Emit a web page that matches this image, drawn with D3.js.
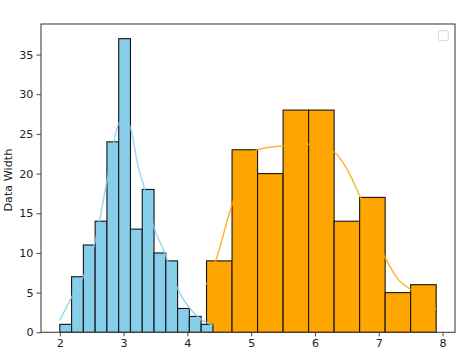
<!DOCTYPE html>
<html>
<head>
<meta charset="utf-8">
<script src="https://cdn.jsdelivr.net/npm/d3@7"></script>
<style>
  html, body { margin: 0; padding: 0; background: #fff; }
  svg { display: block; }
  text { font-family: "DejaVu Sans", sans-serif; }
</style>
</head>
<body>
<svg id="chart" width="474" height="357"></svg>
<script>
// ---- data ----
const blueEdges  = [2.0, 2.1846, 2.3692, 2.5538, 2.7385, 2.9231, 3.1077, 3.2923, 3.4769, 3.6615, 3.8462, 4.0308, 4.2154, 4.4];
const blueCounts = [1, 7, 11, 14, 24, 37, 13, 18, 10, 9, 3, 2, 1];
const orangeEdges  = [4.3, 4.7, 5.1, 5.5, 5.9, 6.3, 6.7, 7.1, 7.5, 7.9];
const orangeCounts = [9, 23, 20, 28, 28, 14, 17, 5, 6];

const blueKdeX = [2.0, 2.19, 2.37, 2.55, 2.74, 2.925, 3.02, 3.11, 3.23, 3.30, 3.46, 3.65, 3.84, 4.04, 4.22, 4.4];
const blueKdeY = [1.5, 4.5, 7.0, 11.3, 19.1, 26.3, 26.8, 25.7, 20.8, 18.9, 13.6, 9.9, 5.6, 3.0, 1.6, 0.9];
const orangeKdeX = [4.3, 4.44, 4.7, 5.1, 5.5, 5.9, 6.3, 6.5, 6.7, 7.1, 7.3, 7.5, 7.9];
const orangeKdeY = [6.0, 8.9, 16.1, 23.0, 23.5, 23.7, 22.7, 20.6, 17.2, 9.4, 6.7, 5.4, 2.9];

const xTicks = [2, 3, 4, 5, 6, 7, 8];
const yTicks = [0, 5, 10, 15, 20, 25, 30, 35];
const yLabel = "Data Width";

// ---- layout ----
const L = 41, R = 455, T = 24, B = 332.3;
const FS = "11.2px";
const svg = d3.select("#chart");
const x = d3.scaleLinear().domain([1.705, 8.195]).range([L, R]);
const y = d3.scaleLinear().domain([0, 38.85]).range([B, T]);

function bars(edges, counts, fill) {
  const data = counts.map((c, i) => ({x0: edges[i], x1: edges[i + 1], c}));
  svg.append("g").selectAll("rect").data(data).join("rect")
    .attr("x", d => x(d.x0))
    .attr("y", d => y(d.c))
    .attr("width", d => x(d.x1) - x(d.x0))
    .attr("height", d => y(0) - y(d.c))
    .attr("fill", fill)
    .attr("stroke", "#141414")
    .attr("stroke-width", 1.1);
}
function kde(xs, ys, color) {
  const pts = xs.map((v, i) => [v, ys[i]]);
  const line = d3.line().x(d => x(d[0])).y(d => y(d[1])).curve(d3.curveMonotoneX);
  svg.append("path").datum(pts)
    .attr("d", line)
    .attr("fill", "none")
    .attr("stroke", color)
    .attr("stroke-opacity", 0.8)
    .attr("stroke-width", 1.5);
}

bars(orangeEdges, orangeCounts, "#FFA500");
kde(orangeKdeX, orangeKdeY, "#FFA500");
bars(blueEdges, blueCounts, "#87CEEB");
kde(blueKdeX, blueKdeY, "#87CEEB");

// ---- axes ----
const xAxis = d3.axisBottom(x).tickValues(xTicks).tickSize(4).tickPadding(3).tickFormat(d3.format("d"));
const yAxis = d3.axisLeft(y).tickValues(yTicks).tickSize(4.5).tickPadding(3).tickFormat(d3.format("d"));

const gx = svg.append("g").attr("transform", `translate(0,${B})`).call(xAxis);
const gy = svg.append("g").attr("transform", `translate(${L},0)`).call(yAxis);
[gx, gy].forEach(g => {
  g.select(".domain").remove();
  g.selectAll(".tick line").attr("stroke", "#333").attr("stroke-width", 0.9);
  g.selectAll(".tick text").attr("fill", "#222").style("font-size", FS).style("font-family", "DejaVu Sans");
});

// spines
svg.append("rect")
  .attr("x", L).attr("y", T).attr("width", R - L).attr("height", B - T)
  .attr("fill", "none").attr("stroke", "#444").attr("stroke-width", 1.1);

// empty legend box
svg.append("rect")
  .attr("x", 438.3).attr("y", 30.7).attr("width", 10).attr("height", 10)
  .attr("rx", 2).attr("fill", "#fff").attr("stroke", "#d6d6d6").attr("stroke-width", 1);

// y label
svg.append("text")
  .attr("transform", `translate(11.5,${(T + B) / 2 + 2}) rotate(-90)`)
  .attr("text-anchor", "middle")
  .attr("fill", "#222")
  .style("font-size", FS)
  .text(yLabel);
</script>
</body>
</html>
